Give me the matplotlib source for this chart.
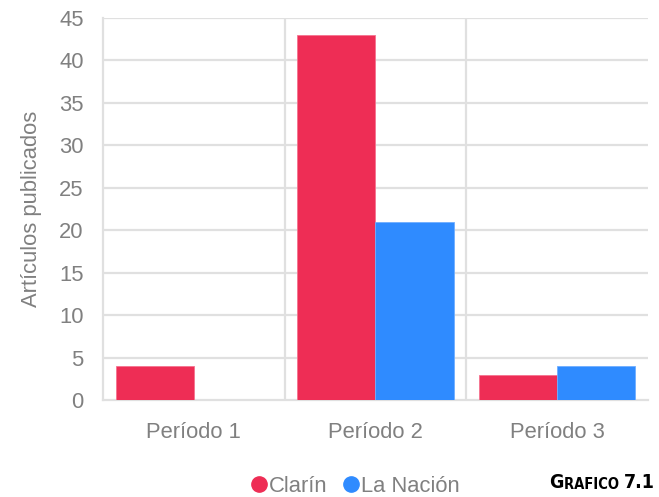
import matplotlib.pyplot as plt
import numpy as np

plt.rcParams['font.family'] = ['Liberation Sans', 'DejaVu Sans']

# data
periodos = ['Período 1', 'Período 2', 'Período 3']
clarin = [4, 43, 3]
la_nacion = [0, 21, 4]

rojo = '#EE2D55'
azul = '#2F8BFF'
gris = '#808080'
linea = '#E0E0E0'

fig = plt.figure(figsize=(6.59, 4.97), dpi=100)
ax = fig.add_axes([0.1563, 0.1952, 0.827, 0.7686])

x = np.arange(len(periodos))
w = 0.43
ax.bar(x - w / 2, clarin, w, color=rojo, edgecolor='#F5738F', linewidth=0.6, zorder=3)
ax.bar(x + w / 2, la_nacion, w, color=azul, edgecolor='#6FAEFF', linewidth=0.6, zorder=3)

ax.set_xlim(-0.5, 2.5)
ax.set_ylim(0, 45)
ax.set_yticks(range(0, 46, 5))
ax.set_xticks(x)
ax.set_xticklabels(periodos)

# grid: horizontal at ticks, vertical between categories
for y in range(5, 46, 5):
    ax.axhline(y, color=linea, lw=1.6, zorder=1)
for b in [0.5, 1.5]:
    ax.axvline(b, color=linea, lw=1.6, zorder=1)

for s in ['top', 'right']:
    ax.spines[s].set_visible(False)
for s in ['left', 'bottom']:
    ax.spines[s].set_color(linea)
    ax.spines[s].set_linewidth(1.6)

ax.tick_params(axis='both', length=0, labelsize=15.8, colors=gris)
ax.tick_params(axis='y', pad=14)
ax.tick_params(axis='x', pad=16)
ax.set_ylabel('Artículos publicados', fontsize=15.8, color=gris, labelpad=12)

# legend
h1 = plt.Line2D([], [], marker='o', ls='', color=rojo, markersize=11)
h2 = plt.Line2D([], [], marker='o', ls='', color=azul, markersize=11)
leg = fig.legend([h1, h2], ['Clarín', 'La Nación'], loc='center', bbox_to_anchor=(0.535, 0.022),
                 ncol=2, frameon=False, fontsize=15.8, handletextpad=-0.15, columnspacing=0.5,
                 handlelength=1.2, borderpad=0)
for t in leg.get_texts():
    t.set_color(gris)

# label in small caps style, built from the right
kw = dict(fontweight='bold', fontstretch='condensed', family='DejaVu Sans', color='black')
t3 = fig.text(0.993, 0.01, '7.1', fontsize=14, ha='right', va='bottom', **kw)
t2 = ax.annotate('RAFICO ', xy=(0, 0), xycoords=t3, fontsize=10.5, ha='right', va='bottom', **kw)
ax.annotate('G', xy=(0, 0), xycoords=t2, fontsize=14, ha='right', va='bottom', **kw)

fig.savefig('out.png', dpi=100)
